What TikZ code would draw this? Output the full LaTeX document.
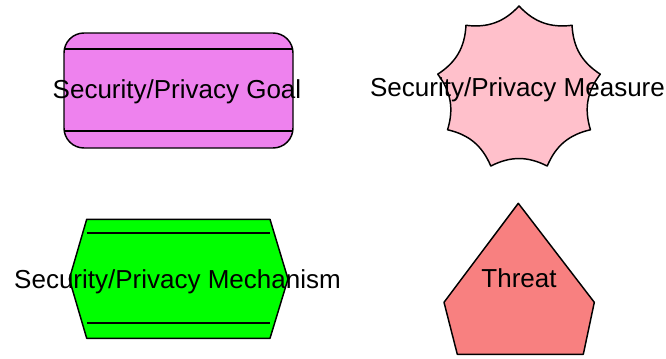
\documentclass[tikz,border=0pt]{standalone}
\usepackage{fontspec}
\setmainfont{Liberation Sans}
\definecolor{goalviolet}{RGB}{238,130,238}
\definecolor{measurepink}{RGB}{255,192,203}
\definecolor{mechgreen}{RGB}{0,255,0}
\definecolor{threatcoral}{RGB}{248,128,128}
\begin{document}
\begin{tikzpicture}[x=0.75pt,y=-0.75pt,
  outline/.style={draw=black, line width=1.1pt, line join=round},
  lbl/.style={font=\fontsize{19.5}{23}\selectfont, anchor=base, inner sep=0pt, text=black}]
\useasboundingbox (0,0) rectangle (666,358);
% Goal
\draw[outline, fill=goalviolet, rounded corners=15pt] (64,33) rectangle (293,148);
\coordinate (g1l) at (64,49); \coordinate (g1r) at (293,49);
\coordinate (g2l) at (64,131); \coordinate (g2r) at (293,131);
\draw[outline] (g1l) -- (g1r);
\draw[outline] (g2l) -- (g2r);
\node[lbl] (goal) at (177,98) {Security/Privacy Goal};
% Measure star
\begin{scope}[shift={(519,88.5)}]
\draw[outline, fill=measurepink]
  (-90:82.5) to[bend right=27] (-50:82.5) to[bend right=27] (-10:82.5)
  to[bend right=27] (30:82.5) to[bend right=27] (70:82.5)
  to[bend right=27] (110:82.5) to[bend right=27] (150:82.5)
  to[bend right=27] (190:82.5) to[bend right=27] (230:82.5)
  to[bend right=27] (270:82.5) -- cycle;
\end{scope}
\node[lbl] (measure) at (517.5,96.7) {Security/Privacy Measure};
% Mechanism hexagon
\draw[outline, fill=mechgreen] (86.7,219.3) -- (270,219.3) -- (288,279) -- (270,338.3) -- (86.7,338.3) -- (69.3,279) -- cycle;
\coordinate (m1l) at (86.7,233); \coordinate (m1r) at (270,233);
\coordinate (m2l) at (86.7,323); \coordinate (m2r) at (270,323);
\draw[outline] (m1l) -- (m1r);
\draw[outline] (m2l) -- (m2r);
\node[lbl] (mechanism) at (177.5,288.3) {Security/Privacy Mechanism};
% Threat pentagon
\draw[outline, fill=threatcoral] (518.3,203.3) -- (594.3,302.3) -- (583.3,354.3) -- (457.3,354.3) -- (444,302.3) -- cycle;
\node[lbl] (threat) at (519,287.7) {Threat};
\end{tikzpicture}
\end{document}
